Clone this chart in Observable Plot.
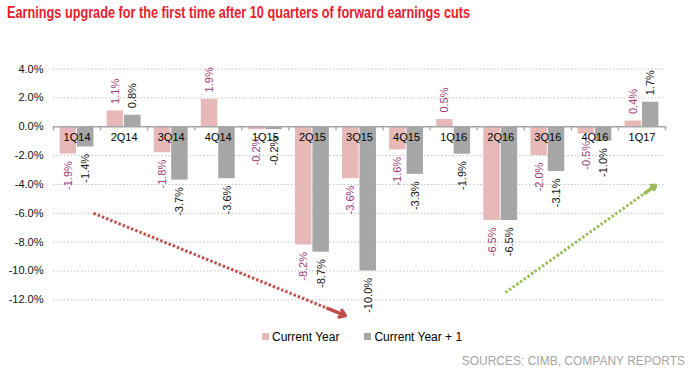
<!DOCTYPE html>
<html><head><meta charset="utf-8">
<script src="https://cdn.jsdelivr.net/npm/d3@7"></script>
<script src="https://cdn.jsdelivr.net/npm/@observablehq/plot@0.6"></script>
<style>
body{margin:0;background:#fff;font-family:"Liberation Sans",Arial,sans-serif;}
#wrap{position:relative;width:692px;height:373px;overflow:hidden;background:#fff;}
#chart{position:absolute;left:0;top:28px;}
#legend{position:absolute;left:262px;top:329px;height:15px;display:flex;align-items:center;font-size:12px;color:#000;white-space:nowrap;}
#legend .sw{display:inline-block;width:7px;height:7px;margin-right:3px;}
#legend .item{display:flex;align-items:center;margin-right:25px;}
#source{position:absolute;right:7px;top:354px;font-size:12px;color:#a5a5a5;white-space:nowrap;}
</style></head><body>
<div id="wrap">
<svg id="title" width="692" height="28" style="position:absolute;left:0;top:0">
<text x="7" y="18" fill="#e8202a" font-weight="bold" font-size="16" font-family="'Liberation Sans Narrow','Arial Narrow','Liberation Sans',Arial,sans-serif" textLength="463" lengthAdjust="spacingAndGlyphs">Earnings upgrade for the first time after 10 quarters of forward earnings cuts</text>
</svg>
<div id="chart"></div>
<div id="legend"></div>
<div id="source">SOURCES: CIMB, COMPANY REPORTS</div>
</div>
<script>
const quarters = ["1Q14","2Q14","3Q14","4Q14","1Q15","2Q15","3Q15","4Q15","1Q16","2Q16","3Q16","4Q16","1Q17"];
const currentYear = [-1.9, 1.1, -1.8, 1.9, -0.2, -8.2, -3.6, -1.6, 0.5, -6.5, -2.0, -0.5, 0.4];
const currentYearPlus1 = [-1.4, 0.8, -3.7, -3.6, -0.2, -8.7, -10.0, -3.3, -1.9, -6.5, -3.1, -1.0, 1.7];
const seriesNames = ["Current Year", "Current Year + 1"];
const yTicks = [-12, -10, -8, -6, -4, -2, 0, 2, 4];
// trend-arrow annotations, in (quarter index, % value) units
const trendDown = [{i: 0.35, v: -6.0}, {i: 5.7, v: -13.1}];
const trendUp = [{i: 9.1, v: -11.5}, {i: 12.29, v: -4.07}];

const pink = "#e6b9b8", gray = "#a6a6a6";
const pinkText = "#9b3b72", grayText = "#111";

const rowsA = quarters.map((q, i) => ({q, i, v: currentYear[i]}));
const rowsB = quarters.map((q, i) => ({q, i, v: currentYearPlus1[i]}));
const catRows = quarters.map((q, i) => ({q, i}));
const boundaries = d3.range(quarters.length + 1).map(k => k - 0.5);

const fmt = v => v.toFixed(1) + "%";
const offA = [-0.36, -0.01], offB = [0.01, 0.36];
const midA = (offA[0] + offA[1]) / 2, midB = (offB[0] + offB[1]) / 2;

function arrowParts(seg, color) {
  const [a, b] = seg;
  const t = 0.93;
  const head = [{i1: a.i + (b.i - a.i) * t, v1: a.v + (b.v - a.v) * t, i2: b.i, v2: b.v}];
  return [
    Plot.link([{i1: a.i, v1: a.v, i2: head[0].i1, v2: head[0].v1}], {x1: "i1", y1: "v1", x2: "i2", y2: "v2", stroke: color, strokeWidth: 3, strokeDasharray: "2.5,2"}),
    Plot.arrow(head, {x1: "i1", y1: "v1", x2: "i2", y2: "v2", stroke: color, strokeWidth: 3.5, headLength: 10, headAngle: 70})
  ];
}

const chart = Plot.plot({
  width: 692,
  height: 300,
  marginLeft: 53,
  marginRight: 27,
  marginTop: 40.6,
  marginBottom: 28.7,
  style: {fontFamily: "'Liberation Sans', Arial, sans-serif", fontSize: "11px", color: "#111", background: "#fff"},
  x: {domain: [-0.5, quarters.length - 0.5], axis: null},
  y: {domain: [-12, 4], ticks: yTicks, tickFormat: d => d.toFixed(1) + "%", tickSize: 0, tickPadding: 10, label: null},
  marks: [
    Plot.ruleY(yTicks.filter(t => t !== 0), {stroke: "#bfbfbf", strokeWidth: 1, strokeDasharray: "1.5,2"}),
    Plot.rect(rowsA, {x1: d => d.i + offA[0], x2: d => d.i + offA[1], y1: 0, y2: "v", fill: pink}),
    Plot.rect(rowsB, {x1: d => d.i + offB[0], x2: d => d.i + offB[1], y1: 0, y2: "v", fill: gray}),
    Plot.ruleY([0], {stroke: "#a6a6a6", strokeWidth: 1.5}),
    Plot.ruleX(boundaries, {x: d => d, y1: 0, y2: 0, insetBottom: -4, stroke: "#a6a6a6", strokeWidth: 1.5}),
    Plot.text(catRows, {x: "i", y: () => 0, text: "q", dy: 11, fill: "#000", fontSize: 11}),
    Plot.text(rowsA.filter(d => d.v < 0), {x: d => d.i + midA, y: "v", text: d => fmt(d.v), rotate: -90, textAnchor: "end", dy: 7, fill: pinkText, fontSize: 11}),
    Plot.text(rowsA.filter(d => d.v >= 0), {x: d => d.i + midA, y: "v", text: d => fmt(d.v), rotate: -90, textAnchor: "start", dy: -7, fill: pinkText, fontSize: 11}),
    Plot.text(rowsB.filter(d => d.v < 0), {x: d => d.i + midB, y: "v", text: d => fmt(d.v), rotate: -90, textAnchor: "end", dy: 7, fill: grayText, fontSize: 11}),
    Plot.text(rowsB.filter(d => d.v >= 0), {x: d => d.i + midB, y: "v", text: d => fmt(d.v), rotate: -90, textAnchor: "start", dy: -7, fill: grayText, fontSize: 11}),
    ...arrowParts(trendDown, "#c0504d"),
    ...arrowParts(trendUp, "#9bbb59")
  ]
});
document.getElementById("chart").appendChild(chart);

const legend = document.getElementById("legend");
[[seriesNames[0], pink], [seriesNames[1], gray]].forEach(([name, c]) => {
  const it = document.createElement("span");
  it.className = "item";
  const sw = document.createElement("span");
  sw.className = "sw";
  sw.style.background = c;
  it.appendChild(sw);
  it.appendChild(document.createTextNode(name));
  legend.appendChild(it);
});
</script>
</body></html>
